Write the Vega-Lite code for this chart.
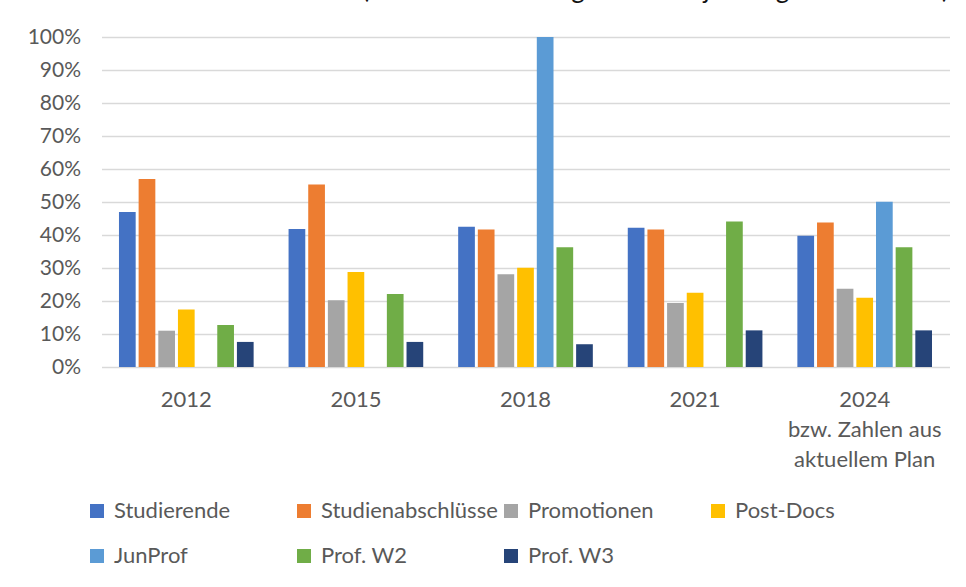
{
  "$schema": "https://vega.github.io/schema/vega-lite/v6.json",
  "autosize": "none",
  "width": 848,
  "height": 330,
  "padding": {"left": 101.5, "top": 37, "right": 16.5, "bottom": 220},
  "background": "white",
  "title": {
    "text": "Anteil der Frauen in Prozent (Frauenanteil bezogen auf die jeweilige Gesamtzahl)",
    "anchor": "start",
    "frame": "group",
    "font": "Lato",
    "fontSize": 26,
    "fontWeight": "normal",
    "color": "#111111",
    "baseline": "alphabetic",
    "dx": -64,
    "dy": -2.5,
    "offset": 0
  },
  "config": {
    "view": {"stroke": null},
    "font": "Lato"
  },
  "data": {
    "values": [
      {"Jahr": "2012", "Gruppe": "Studierende", "Anteil": 47},
      {"Jahr": "2012", "Gruppe": "Studienabschlüsse", "Anteil": 57},
      {"Jahr": "2012", "Gruppe": "Promotionen", "Anteil": 11},
      {"Jahr": "2012", "Gruppe": "Post-Docs", "Anteil": 17.4},
      {"Jahr": "2012", "Gruppe": "Prof. W2", "Anteil": 12.7},
      {"Jahr": "2012", "Gruppe": "Prof. W3", "Anteil": 7.6},
      {"Jahr": "2015", "Gruppe": "Studierende", "Anteil": 41.8},
      {"Jahr": "2015", "Gruppe": "Studienabschlüsse", "Anteil": 55.3},
      {"Jahr": "2015", "Gruppe": "Promotionen", "Anteil": 20.2},
      {"Jahr": "2015", "Gruppe": "Post-Docs", "Anteil": 28.8},
      {"Jahr": "2015", "Gruppe": "Prof. W2", "Anteil": 22.1},
      {"Jahr": "2015", "Gruppe": "Prof. W3", "Anteil": 7.6},
      {"Jahr": "2018", "Gruppe": "Studierende", "Anteil": 42.5},
      {"Jahr": "2018", "Gruppe": "Studienabschlüsse", "Anteil": 41.7},
      {"Jahr": "2018", "Gruppe": "Promotionen", "Anteil": 28.1},
      {"Jahr": "2018", "Gruppe": "Post-Docs", "Anteil": 30.1},
      {"Jahr": "2018", "Gruppe": "JunProf", "Anteil": 100},
      {"Jahr": "2018", "Gruppe": "Prof. W2", "Anteil": 36.3},
      {"Jahr": "2018", "Gruppe": "Prof. W3", "Anteil": 6.9},
      {"Jahr": "2021", "Gruppe": "Studierende", "Anteil": 42.2},
      {"Jahr": "2021", "Gruppe": "Studienabschlüsse", "Anteil": 41.7},
      {"Jahr": "2021", "Gruppe": "Promotionen", "Anteil": 19.4},
      {"Jahr": "2021", "Gruppe": "Post-Docs", "Anteil": 22.5},
      {"Jahr": "2021", "Gruppe": "Prof. W2", "Anteil": 44.1},
      {"Jahr": "2021", "Gruppe": "Prof. W3", "Anteil": 11.1},
      {"Jahr": "2024", "Gruppe": "Studierende", "Anteil": 39.8},
      {"Jahr": "2024", "Gruppe": "Studienabschlüsse", "Anteil": 43.8},
      {"Jahr": "2024", "Gruppe": "Promotionen", "Anteil": 23.7},
      {"Jahr": "2024", "Gruppe": "Post-Docs", "Anteil": 21},
      {"Jahr": "2024", "Gruppe": "JunProf", "Anteil": 50.1},
      {"Jahr": "2024", "Gruppe": "Prof. W2", "Anteil": 36.3},
      {"Jahr": "2024", "Gruppe": "Prof. W3", "Anteil": 11.1}
    ]
  },
  "mark": {"type": "bar"},
  "encoding": {
    "x": {
      "field": "Jahr",
      "type": "nominal",
      "scale": {"paddingInner": 0.206, "paddingOuter": 0.103},
      "axis": {
        "title": null,
        "domain": false,
        "ticks": false,
        "tickSize": 0,
        "labelAngle": 0,
        "labelFont": "Lato",
        "labelFontSize": 22,
        "labelColor": "#595959",
        "labelPadding": 22,
        "labelLineHeight": 30,
        "labelExpr": "datum.value == '2024' ? ['2024', 'bzw. Zahlen aus', 'aktuellem Plan'] : datum.value"
      }
    },
    "xOffset": {
      "field": "Gruppe",
      "type": "nominal",
      "scale": {
        "domain": ["Studierende", "Studienabschlüsse", "Promotionen", "Post-Docs", "JunProf", "Prof. W2", "Prof. W3"],
        "paddingInner": 0.15,
        "paddingOuter": 0
      }
    },
    "y": {
      "field": "Anteil",
      "type": "quantitative",
      "scale": {"domain": [0, 100], "nice": false},
      "axis": {
        "title": null,
        "domain": false,
        "ticks": false,
        "tickSize": 0,
        "values": [0, 10, 20, 30, 40, 50, 60, 70, 80, 90, 100],
        "labelExpr": "datum.value + '%'",
        "labelFont": "Lato",
        "labelFontSize": 21,
        "labelColor": "#595959",
        "labelPadding": 21,
        "gridColor": "#d9d9d9",
        "gridWidth": 1.5
      }
    },
    "color": {
      "field": "Gruppe",
      "type": "nominal",
      "scale": {
        "domain": ["Studierende", "Studienabschlüsse", "Promotionen", "Post-Docs", "JunProf", "Prof. W2", "Prof. W3"],
        "range": ["#4472C4", "#ED7D31", "#A5A5A5", "#FFC000", "#5B9BD5", "#70AD47", "#264478"]
      },
      "legend": {
        "title": null,
        "orient": "none",
        "legendX": -15.5,
        "legendY": 463,
        "direction": "horizontal",
        "columns": 4,
        "gridAlign": "all",
        "columnPadding": 2,
        "rowPadding": 23,
        "padding": 0,
        "symbolType": "square",
        "symbolSize": 196,
        "symbolStrokeWidth": 0,
        "labelOffset": 6,
        "labelFont": "Lato",
        "labelFontSize": 22,
        "labelColor": "#595959",
        "labelLimit": 300
      }
    }
  }
}
